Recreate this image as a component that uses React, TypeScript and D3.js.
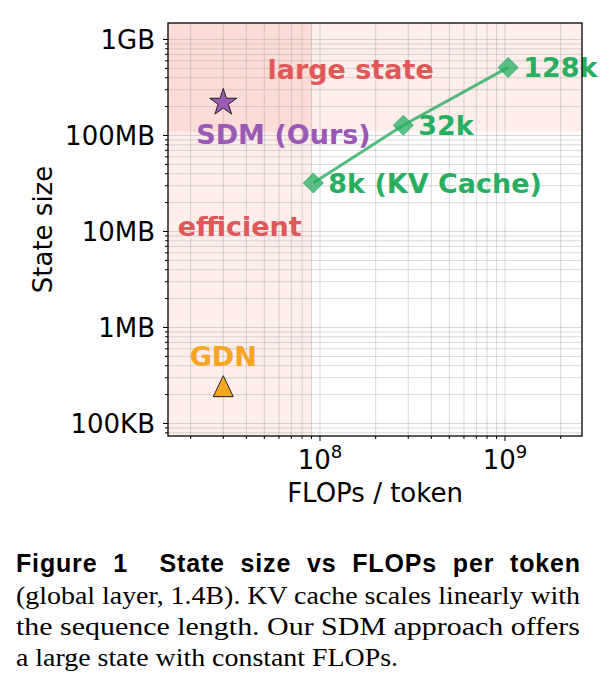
import React from "react";
import * as d3 from "d3";

// ---------- values ----------
const kvLabels = ["8k (KV Cache)", "32k", "128k"];
const kvFlops = [9.2e7, 2.82e8, 1.04e9];
const kvState = [3.2e7, 1.28e8, 5.12e8];

const sdmFlops = [3.0e7];
const sdmState = [2.2e8];
const gdnFlops = [3.0e7];
const gdnState = [2.45e5];

const yTickValues = [1e5, 1e6, 1e7, 1e8, 1e9];
const yTickLabels = ["100KB", "1MB", "10MB", "100MB", "1GB"];
const xTickValues = [1e8, 1e9];
const xTickExponents = ["8", "9"];

const xDomain = [1.508e7, 2.608e9];
const yDomain = [7.41e4, 1.486e9];

// shaded regions
const efficientMaxFlops = 9e7;
const largeStateMinBytes = 1.1e8;

const captionHead = "Figure 1  State size vs FLOPs per token";
const captionLines = [
  "(global layer, 1.4B). KV cache scales linearly with",
  "the sequence length. Our SDM approach offers",
  "a large state with constant FLOPs.",
];

// colours
const RED = "#e74c3c";
const RED_TEXT = "#e05858";
const GREEN = "#27ae60";
const PURPLE = "#9b59b6";
const ORANGE = "#f5a623";

const W = 613;
const H = 696;
const plot = { left: 168, top: 23, right: 582, bottom: 436 };
const capLeft = 16;
const capRight = 580;

const isMajor = (v: number) => Math.abs(Math.log10(v) - Math.round(Math.log10(v))) < 1e-9;

export default function App() {
  const x = d3.scaleLog().domain(xDomain).range([plot.left, plot.right]);
  const y = d3.scaleLog().domain(yDomain).range([plot.bottom, plot.top]);

  const xAll = x.ticks();
  const yAll = y.ticks();

  const line = d3
    .line<number>()
    .x((_, i) => x(kvFlops[i]))
    .y((_, i) => y(kvState[i]));

  const star = d3.symbol(d3.symbolStar, 226)();
  const diamond = "M0,-10L10,0L0,10L-10,0Z";
  const triangle = "M0,-10.5L10,10.5L-10,10.5Z";

  const chartFont = "DejaVu Sans, sans-serif";
  const capWidth = capRight - capLeft;

  return (
    <svg
      width={W}
      height={H}
      style={{ position: "absolute", left: 0, top: 0, background: "#fff" }}
    >
      {/* shaded regions */}
      <rect
        x={plot.left}
        y={plot.top}
        width={x(efficientMaxFlops) - plot.left}
        height={plot.bottom - plot.top}
        fill={RED}
        opacity={0.1}
      />
      <rect
        x={plot.left}
        y={plot.top}
        width={plot.right - plot.left}
        height={y(largeStateMinBytes) - plot.top}
        fill={RED}
        opacity={0.1}
      />

      {/* grid: major + minor */}
      <g stroke="#a0a0a0" strokeOpacity={0.4} strokeWidth={1}>
        {xAll.map((v, i) => (
          <line key={"gx" + i} x1={x(v)} x2={x(v)} y1={plot.top} y2={plot.bottom} />
        ))}
        {yAll.map((v, i) => (
          <line key={"gy" + i} x1={plot.left} x2={plot.right} y1={y(v)} y2={y(v)} />
        ))}
      </g>

      {/* ticks */}
      <g stroke="#000" strokeWidth={1}>
        {xAll.map((v, i) => (
          <line
            key={"tx" + i}
            x1={x(v)}
            x2={x(v)}
            y1={plot.bottom}
            y2={plot.bottom + (isMajor(v) ? 5 : 3)}
          />
        ))}
        {yAll.map((v, i) => (
          <line
            key={"ty" + i}
            x1={plot.left}
            x2={plot.left - (isMajor(v) ? 5 : 3)}
            y1={y(v)}
            y2={y(v)}
          />
        ))}
      </g>

      {/* tick labels */}
      <g fontFamily={chartFont} fontSize={26} fill="#000">
        {yTickValues.map((v, i) => (
          <text key={"yl" + i} x={plot.left - 13} y={y(v)} dy="0.36em" textAnchor="end">
            {yTickLabels[i]}
          </text>
        ))}
        {xTickValues.map((v, i) => (
          <text key={"xl" + i} x={x(v)} y={469} textAnchor="middle">
            10
            <tspan fontSize={18} dy={-11}>
              {xTickExponents[i]}
            </tspan>
          </text>
        ))}
      </g>

      {/* axis titles */}
      <text
        x={(plot.left + plot.right) / 2}
        y={502}
        textAnchor="middle"
        fontFamily={chartFont}
        fontSize={26}
      >
        FLOPs / token
      </text>
      <text
        transform={`translate(52,${(plot.top + plot.bottom) / 2}) rotate(-90)`}
        textAnchor="middle"
        fontFamily={chartFont}
        fontSize={26}
      >
        State size
      </text>

      {/* region labels */}
      <g fontFamily={chartFont} fontSize={27} fontWeight="bold" fill={RED_TEXT}>
        <text x={x(5.2e7)} y={y(3.9e8)}>large state</text>
        <text x={x(1.7e7)} y={y(9.0e6)}>efficient</text>
      </g>

      {/* KV cache line and points */}
      <path
        d={line(kvFlops) || ""}
        fill="none"
        stroke={GREEN}
        strokeWidth={3}
        strokeOpacity={0.8}
      />
      {kvFlops.map((f, i) => (
        <path
          key={"kv" + i}
          d={diamond}
          transform={`translate(${x(f)},${y(kvState[i])})`}
          fill={GREEN}
          fillOpacity={0.75}
          stroke={GREEN}
          strokeOpacity={0.8}
          strokeWidth={1}
        />
      ))}
      <g fontFamily={chartFont} fontSize={27} fontWeight="bold" fill={GREEN}>
        {kvFlops.map((f, i) => (
          <text key={"kvl" + i} x={x(f) + 15} y={y(kvState[i]) + 9.5}>
            {kvLabels[i]}
          </text>
        ))}
      </g>

      {/* SDM */}
      {sdmFlops.map((f, i) => (
        <g key={"sdm" + i}>
          <path
            d={star || ""}
            transform={`translate(${x(f)},${y(sdmState[i])})`}
            fill={PURPLE}
            stroke="#222"
            strokeWidth={1}
          />
          <text
            x={x(f) - 27}
            y={y(sdmState[i]) + 41.5}
            fontFamily={chartFont}
            fontSize={27}
            fontWeight="bold"
            fill={PURPLE}
          >
            SDM (Ours)
          </text>
        </g>
      ))}

      {/* GDN */}
      {gdnFlops.map((f, i) => (
        <g key={"gdn" + i}>
          <path
            d={triangle}
            transform={`translate(${x(f)},${y(gdnState[i])})`}
            fill={ORANGE}
            stroke="#222"
            strokeWidth={1}
          />
          <text
            x={x(f)}
            y={y(gdnState[i]) - 20}
            textAnchor="middle"
            fontFamily={chartFont}
            fontSize={27}
            fontWeight="bold"
            fill={ORANGE}
          >
            GDN
          </text>
        </g>
      ))}

      {/* frame */}
      <rect
        x={plot.left}
        y={plot.top}
        width={plot.right - plot.left}
        height={plot.bottom - plot.top}
        fill="none"
        stroke="#000"
        strokeWidth={1.3}
      />

      {/* caption */}
      <text
        x={capLeft}
        y={572}
        fontFamily="Liberation Sans, Arial, sans-serif"
        fontWeight="bold"
        fontSize={25}
        textLength={capWidth}
        lengthAdjust="spacing"
        style={{ whiteSpace: "pre", wordSpacing: "8px" }}
      >
        {captionHead}
      </text>
      {captionLines.map((t, i) => (
        <text
          key={"cap" + i}
          x={capLeft}
          y={604 + i * 31}
          fontFamily="Liberation Serif, Times New Roman, serif"
          fontSize={25}
          textLength={i < 2 ? capWidth : 382}
          lengthAdjust="spacingAndGlyphs"
        >
          {t}
        </text>
      ))}
    </svg>
  );
}
